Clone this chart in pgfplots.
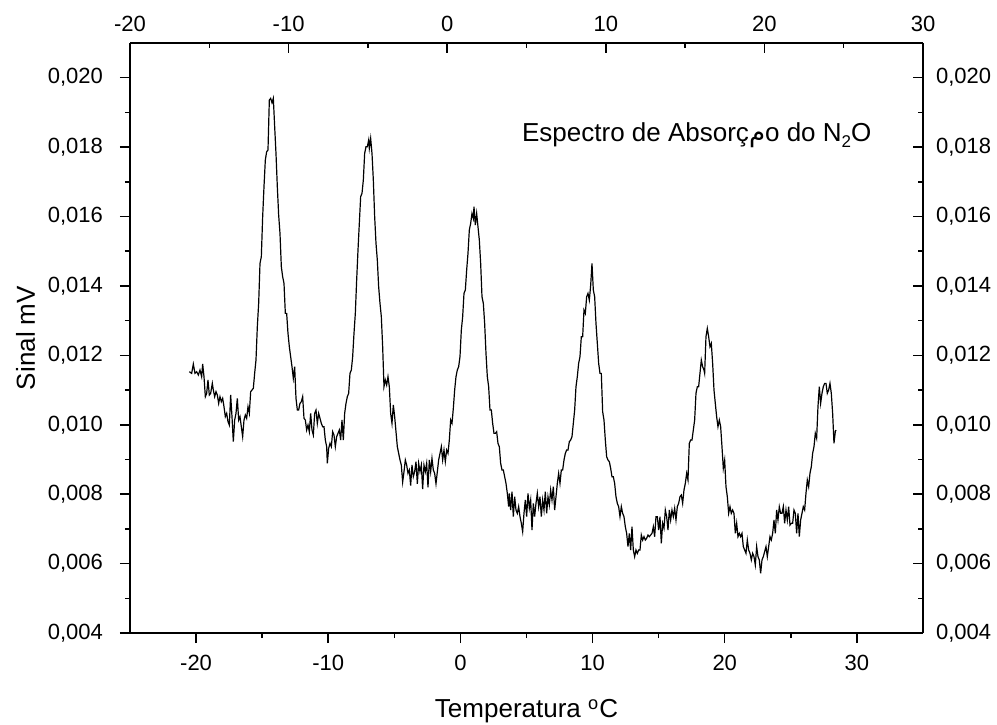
\documentclass[border=0pt]{standalone}
\usepackage{fontspec}
\setmainfont{Liberation Sans}
\newfontfamily\arabicfont[Script=Arabic]{DejaVu Sans}
\TeXXeTstate=1
\usepackage{pgfplots}
\pgfplotsset{compat=1.18}

\pgfplotsset{
  frame/.style={
    scale only axis, width=396.5pt, height=295pt,
    at={(65pt,45.5pt)}, anchor=south west,
    ymin=0.004, ymax=0.021,
    axis line style={line width=0.75pt},
    every tick/.style={line width=0.75pt, black},
    major tick length=5pt, minor tick length=2.5pt,
    tick label style={font=\fontsize{11}{13}\selectfont},
    label style={font=\fontsize{13}{15}\selectfont},
    /pgf/number format/assume math mode=true,
    scaled y ticks=false,
    ytick={0.004,0.006,...,0.0201}, minor y tick num=1,
    yticklabel style={/pgf/number format/fixed, /pgf/number format/fixed zerofill,
      /pgf/number format/precision=3, /pgf/number format/use comma},
  },
}

\begin{document}
\begin{tikzpicture}
\path[use as bounding box] (0,0) rectangle (498.5pt,362pt);

% bottom + left axes, with the data
\begin{axis}[frame,
    xmin=-25, xmax=35,
    axis x line*=bottom, axis y line*=left,
    tick align=outside,
    xtick={-20,-10,...,30}, minor x tick num=1,
    yticklabel style={xshift=-5pt},
    xticklabel style={yshift=-2.5pt},
    xlabel={Temperatura \textsuperscript{o}C},
    ylabel={Sinal mV},
    xlabel style={at={(axis description cs:0.5,-0.144)}, anchor=base},
    ylabel style={at={(axis description cs:-0.120,0.5)}, anchor=base},
  ]
  \addplot[black, line width=0.6pt] coordinates {
  (-20.511,0.011529) (-20.334,0.011481) (-20.208,0.011750) (-20.082,0.011481) (-19.956,0.011529) (-19.830,0.011433)
  (-19.704,0.011577) (-19.578,0.011385) (-19.502,0.011750) (-19.401,0.011385) (-19.300,0.010809) (-19.199,0.010905)
  (-19.099,0.011289) (-18.998,0.010857) (-18.897,0.010905) (-18.771,0.011193) (-18.695,0.011001) (-18.594,0.010809)
  (-18.493,0.010953) (-18.392,0.010857) (-18.291,0.010617) (-18.191,0.010809) (-18.090,0.010665) (-17.989,0.010761)
  (-17.888,0.010521) (-17.787,0.010233) (-17.686,0.010329) (-17.585,0.010089) (-17.484,0.009993) (-17.384,0.010857)
  (-17.283,0.010233) (-17.182,0.009513) (-17.081,0.010137) (-16.980,0.010329) (-16.879,0.010761) (-16.778,0.010137)
  (-16.677,0.010233) (-16.577,0.009945) (-16.476,0.009657) (-16.375,0.010137) (-16.274,0.010281) (-16.173,0.010185)
  (-16.072,0.010521) (-15.971,0.010329) (-15.870,0.010953) (-15.769,0.011001) (-15.669,0.011049) (-15.568,0.011481)
  (-15.467,0.011865) (-15.366,0.012826) (-15.265,0.013498) (-15.164,0.014650) (-15.063,0.014842) (-14.962,0.015995)
  (-14.862,0.016859) (-14.761,0.017627) (-14.660,0.017867) (-14.559,0.017915) (-14.458,0.019356) (-14.357,0.019404)
  (-14.256,0.019279) (-14.155,0.019404) (-14.054,0.018587) (-13.954,0.017819) (-13.853,0.016859) (-13.752,0.016043)
  (-13.651,0.015514) (-13.550,0.014554) (-13.449,0.014266) (-13.348,0.014074) (-13.247,0.013210) (-13.147,0.013210)
  (-13.046,0.012634) (-12.945,0.012249) (-12.844,0.011961) (-12.743,0.011673) (-12.642,0.011337) (-12.541,0.011673)
  (-12.440,0.010761) (-12.339,0.010425) (-12.239,0.010425) (-12.138,0.010617) (-12.037,0.010665) (-11.936,0.010809)
  (-11.835,0.010185) (-11.734,0.010137) (-11.633,0.009849) (-11.532,0.009993) (-11.431,0.009801) (-11.331,0.010329)
  (-11.230,0.009849) (-11.129,0.009705) (-11.028,0.010329) (-10.927,0.010425) (-10.826,0.010041) (-10.725,0.010329)
  (-10.624,0.010185) (-10.524,0.010041) (-10.423,0.009945) (-10.322,0.009945) (-10.221,0.009561) (-10.120,0.009369)
  (-10.070,0.008888) (-9.969,0.009321) (-9.868,0.009465) (-9.767,0.009369) (-9.666,0.009801) (-9.565,0.009705)
  (-9.464,0.009369) (-9.363,0.009657) (-9.263,0.009753) (-9.162,0.009849) (-9.061,0.009561) (-8.960,0.010137)
  (-8.859,0.009561) (-8.758,0.010329) (-8.657,0.010617) (-8.557,0.010809) (-8.456,0.010905) (-8.355,0.011481)
  (-8.254,0.011577) (-8.153,0.011961) (-8.052,0.012634) (-7.951,0.013210) (-7.850,0.014170) (-7.749,0.015034)
  (-7.649,0.015803) (-7.548,0.016571) (-7.447,0.016667) (-7.346,0.017051) (-7.245,0.017819) (-7.144,0.018011)
  (-7.043,0.018011) (-6.942,0.018203) (-6.892,0.017963) (-6.791,0.018251) (-6.690,0.017819) (-6.589,0.017051)
  (-6.488,0.015995) (-6.387,0.015226) (-6.287,0.014746) (-6.186,0.013978) (-6.085,0.013498) (-5.984,0.013114)
  (-5.883,0.012249) (-5.782,0.011097) (-5.681,0.011289) (-5.580,0.011145) (-5.480,0.011385) (-5.379,0.011097)
  (-5.278,0.010329) (-5.177,0.010041) (-5.076,0.010569) (-4.975,0.010233) (-4.874,0.009801) (-4.773,0.009369)
  (-4.672,0.009177) (-4.572,0.008985) (-4.471,0.008840) (-4.370,0.008350) (-4.269,0.008648) (-4.168,0.008985)
  (-4.067,0.008840) (-3.966,0.008600) (-3.865,0.008696) (-3.765,0.008250) (-3.664,0.008840) (-3.563,0.008504)
  (-3.462,0.008648) (-3.361,0.008936) (-3.260,0.008300) (-3.159,0.008888) (-3.058,0.008648) (-2.958,0.008840)
  (-2.857,0.008150) (-2.756,0.008840) (-2.655,0.008648) (-2.554,0.008888) (-2.453,0.008200) (-2.352,0.008985)
  (-2.251,0.008648) (-2.151,0.009032) (-2.050,0.008696) (-1.949,0.008600) (-1.848,0.008300) (-1.646,0.008985)
  (-1.444,0.009368) (-1.343,0.008984) (-1.242,0.009272) (-1.142,0.008936) (-1.041,0.009272) (-0.940,0.009176)
  (-0.839,0.009560) (-0.738,0.010136) (-0.637,0.010040) (-0.536,0.010472) (-0.435,0.011001) (-0.334,0.011385)
  (-0.234,0.011577) (-0.133,0.011673) (-0.032,0.011961) (0.069,0.012729) (0.170,0.013113) (0.271,0.013786)
  (0.372,0.013882) (0.473,0.014458) (0.573,0.014938) (0.674,0.015610) (0.775,0.015802) (0.876,0.016090)
  (0.977,0.015946) (1.027,0.016282) (1.128,0.015754) (1.229,0.016090) (1.330,0.015706) (1.431,0.015322)
  (1.532,0.014650) (1.633,0.013689) (1.734,0.013497) (1.834,0.012921) (1.935,0.012057) (2.036,0.011385)
  (2.137,0.011097) (2.238,0.010424) (2.339,0.010424) (2.440,0.010040) (2.541,0.009752) (2.642,0.009752)
  (2.742,0.009800) (2.843,0.009464) (2.944,0.009368) (3.045,0.008888) (3.146,0.008696) (3.247,0.008696)
  (3.348,0.008504) (3.448,0.008312) (3.549,0.008024) (3.650,0.007640) (3.701,0.008024) (3.802,0.007544)
  (3.903,0.008072) (4.003,0.007352) (4.104,0.007928) (4.205,0.007544) (4.306,0.007448) (4.407,0.007640)
  (4.508,0.007352) (4.609,0.007160) (4.710,0.006919) (4.810,0.007448) (4.911,0.007832) (5.012,0.007352)
  (5.113,0.008024) (5.214,0.007592) (5.315,0.007832) (5.416,0.006967) (5.517,0.007736) (5.617,0.007352)
  (5.718,0.007736) (5.819,0.008024) (5.920,0.007640) (6.021,0.007928) (6.122,0.007352) (6.223,0.007832)
  (6.324,0.007544) (6.424,0.008072) (6.525,0.007448) (6.626,0.007928) (6.727,0.007688) (6.828,0.008120)
  (6.929,0.007832) (7.030,0.008216) (7.131,0.007544) (7.231,0.007928) (7.332,0.008312) (7.433,0.008600)
  (7.534,0.008312) (7.635,0.008696) (7.736,0.008696) (7.837,0.008984) (7.938,0.009176) (8.038,0.009272)
  (8.139,0.009272) (8.240,0.009512) (8.341,0.009560) (8.442,0.009656) (8.543,0.010040) (8.644,0.010424)
  (8.745,0.011097) (8.845,0.011385) (8.946,0.011769) (9.047,0.011961) (9.148,0.012537) (9.249,0.012537)
  (9.350,0.013305) (9.451,0.013209) (9.552,0.013689) (9.653,0.013786) (9.753,0.013593) (9.854,0.014008)
  (9.955,0.014650) (10.056,0.013882) (10.157,0.013689) (10.258,0.012921) (10.359,0.012345) (10.460,0.011769)
  (10.561,0.011481) (10.661,0.011481) (10.762,0.010376) (10.863,0.010136) (10.964,0.009560) (11.065,0.009080)
  (11.166,0.008984) (11.267,0.008936) (11.368,0.008744) (11.468,0.008504) (11.569,0.008504) (11.670,0.008312)
  (11.771,0.007928) (11.872,0.007736) (11.973,0.007640) (12.074,0.007352) (12.175,0.007640) (12.275,0.007448)
  (12.376,0.007352) (12.477,0.007063) (12.578,0.006871) (12.679,0.006487) (12.780,0.006871) (12.881,0.006391)
  (12.982,0.007063) (13.083,0.006391) (13.183,0.006199) (13.284,0.006391) (13.385,0.006295) (13.486,0.006391)
  (13.587,0.006391) (13.688,0.006823) (13.789,0.006679) (13.890,0.006775) (13.990,0.006679) (14.091,0.006727)
  (14.192,0.006823) (14.293,0.006775) (14.394,0.006823) (14.495,0.006871) (14.596,0.007063) (14.697,0.006775)
  (14.797,0.007352) (14.898,0.007352) (14.999,0.006967) (15.100,0.007352) (15.201,0.006583) (15.302,0.007160)
  (15.403,0.007015) (15.504,0.007544) (15.604,0.007352) (15.705,0.006967) (15.806,0.007544) (15.907,0.007256)
  (16.008,0.007544) (16.109,0.007352) (16.210,0.007592) (16.311,0.007256) (16.411,0.007640) (16.512,0.007736)
  (16.613,0.007928) (16.714,0.007976) (16.815,0.007736) (16.916,0.008120) (17.017,0.008312) (17.118,0.008600)
  (17.218,0.008408) (17.319,0.009464) (17.420,0.009560) (17.521,0.009560) (17.622,0.009848) (17.723,0.010136)
  (17.824,0.010905) (17.925,0.011097) (18.025,0.011097) (18.126,0.011481) (18.227,0.011865) (18.328,0.011673)
  (18.429,0.011577) (18.479,0.011481) (18.580,0.012537) (18.681,0.012777) (18.782,0.012537) (18.883,0.012249)
  (18.984,0.012345) (19.085,0.011769) (19.186,0.011001) (19.286,0.010616) (19.387,0.010232) (19.488,0.009944)
  (19.589,0.010136) (19.690,0.009945) (19.791,0.009368) (19.892,0.008744) (19.993,0.008984) (20.094,0.008216)
  (20.195,0.007928) (20.296,0.007448) (20.396,0.007640) (20.497,0.007448) (20.598,0.007544) (20.699,0.007448)
  (20.800,0.006872) (20.901,0.007160) (21.002,0.006776) (21.103,0.006872) (21.203,0.006776) (21.304,0.006872)
  (21.405,0.006488) (21.506,0.006392) (21.607,0.006296) (21.708,0.006680) (21.809,0.006392) (21.910,0.006296)
  (22.010,0.006104) (22.111,0.006296) (22.212,0.006200) (22.313,0.005959) (22.414,0.006488) (22.515,0.006200)
  (22.616,0.006104) (22.717,0.005719) (22.817,0.006104) (22.918,0.006200) (23.019,0.006344) (23.120,0.006488)
  (23.221,0.006200) (23.322,0.006488) (23.423,0.006776) (23.524,0.006680) (23.624,0.006872) (23.725,0.007256)
  (23.826,0.006872) (23.927,0.007544) (24.028,0.007256) (24.129,0.007640) (24.230,0.007448) (24.331,0.007448)
  (24.432,0.007640) (24.532,0.007160) (24.633,0.007544) (24.734,0.007256) (24.835,0.007640) (24.936,0.007112)
  (25.037,0.007160) (25.138,0.007160) (25.239,0.007544) (25.339,0.007448) (25.440,0.006872) (25.541,0.007448)
  (25.642,0.006776) (25.743,0.007256) (25.844,0.007448) (25.945,0.007640) (26.046,0.007544) (26.146,0.008024)
  (26.247,0.008408) (26.348,0.008216) (26.449,0.008600) (26.550,0.008792) (26.651,0.009176) (26.752,0.009368)
  (26.852,0.009753) (26.953,0.009609) (27.054,0.010521) (27.155,0.011097) (27.256,0.010617) (27.357,0.010905)
  (27.458,0.011097) (27.559,0.011193) (27.660,0.011193) (27.760,0.010905) (27.861,0.011001) (27.962,0.011193)
  (28.063,0.010905) (28.164,0.010329) (28.265,0.009465) (28.366,0.009801) (28.416,0.009849)
  };
  \node[anchor=base west, inner sep=0pt, font=\fontsize{13}{15}\selectfont]
    at (axis cs:4.64,0.01815)
    {Espectro de Absorç{\arabicfont\beginR م\endR}o do N\raisebox{-3pt}{\fontsize{8.5}{9}\selectfont 2}O};
\end{axis}

% right axis
\begin{axis}[frame,
    xmin=-25, xmax=35,
    axis x line=none, axis y line*=right,
    tick align=inside,
    xtick=\empty,
    yticklabel style={xshift=3pt},
  ]
\end{axis}

% top axis
\begin{axis}[frame,
    xmin=-20, xmax=30,
    axis x line*=top, axis y line=none,
    tick align=inside,
    xtick={-20,-10,...,30}, minor x tick num=1,
    xticklabel style={yshift=2pt},
    ytick=\empty, minor ytick=\empty,
  ]
\end{axis}
\end{tikzpicture}
\end{document}
